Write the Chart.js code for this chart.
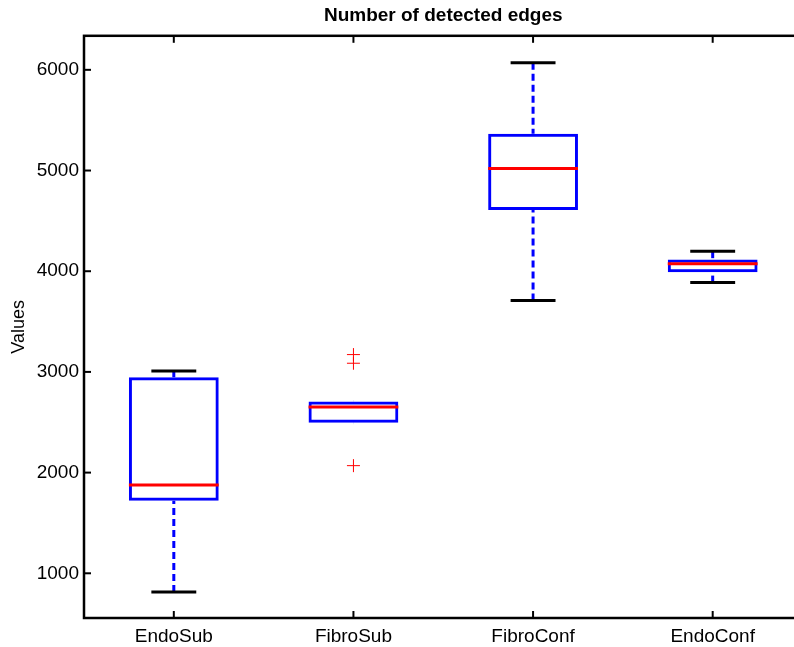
<!DOCTYPE html>
<html>
<head>
<meta charset="utf-8">
<script src="https://cdn.jsdelivr.net/npm/chart.js@4"></script>
<style>
  html, body { margin: 0; padding: 0; background: #fff; overflow: hidden; }
  #wrap { width: 810px; height: 647px; }
</style>
</head>
<body>
<div id="wrap"><canvas id="edges" width="810" height="647"></canvas></div>
<script>
// groups and box statistics (number of detected edges)
const categories = ["EndoSub", "FibroSub", "FibroConf", "EndoConf"];
const whiskerLow = [814, 2496, 3708, 3887];
const q1 = [1721, 2496, 4609, 3990];
const medians = [1877, 2652, 5019, 4073];
const q3 = [2947, 2705, 5364, 4117];
const whiskerHigh = [3010, 2705, 6070, 4199];

// points beyond the whiskers
const outlierGroups = ["FibroSub", "FibroSub", "FibroSub"];
const outlierValues = [3172, 3086, 2069];

const yTicks = [1000, 2000, 3000, 4000, 5000, 6000];

const FONT = "'Liberation Sans', Arial, Helvetica, sans-serif";
const LW = 3;

function seg(ctx, x1, y1, x2, y2) {
  ctx.beginPath();
  ctx.moveTo(x1, y1);
  ctx.lineTo(x2, y2);
  ctx.stroke();
}

// whiskers, caps, medians and the axes box with inward ticks
const boxExtras = {
  id: "boxExtras",
  beforeDatasetsDraw(chart) {
    const { ctx, scales: { x, y } } = chart;
    const step = x.getPixelForValue(1) - x.getPixelForValue(0);
    const capHalf = step * 0.125;
    ctx.save();
    ctx.lineWidth = LW;
    categories.forEach((c, i) => {
      const cx = x.getPixelForValue(i);
      ctx.strokeStyle = "#0000ff";
      ctx.setLineDash([7, 4]);
      seg(ctx, cx, y.getPixelForValue(whiskerHigh[i]), cx, y.getPixelForValue(q3[i]));
      seg(ctx, cx, y.getPixelForValue(whiskerLow[i]), cx, y.getPixelForValue(q1[i]));
      ctx.setLineDash([]);
      ctx.strokeStyle = "#000";
      // a cap that sits on the box edge is covered by the box
      if (whiskerHigh[i] > q3[i]) {
        const hy = y.getPixelForValue(whiskerHigh[i]);
        seg(ctx, cx - capHalf, hy, cx + capHalf, hy);
      }
      if (whiskerLow[i] < q1[i]) {
        const ly = y.getPixelForValue(whiskerLow[i]);
        seg(ctx, cx - capHalf, ly, cx + capHalf, ly);
      }
    });
    ctx.restore();
  },
  afterDatasetsDraw(chart) {
    const { ctx, chartArea: a, scales: { x, y } } = chart;
    const bars = chart.getDatasetMeta(0).data;
    ctx.save();
    ctx.lineWidth = LW;
    ctx.strokeStyle = "#ff0000";
    categories.forEach((c, i) => {
      const cx = x.getPixelForValue(i);
      const hw = bars[i].width / 2;
      const my = y.getPixelForValue(medians[i]);
      seg(ctx, cx - hw, my, cx + hw, my);
    });

    // frame
    ctx.strokeStyle = "#000";
    ctx.lineWidth = 2.5;
    ctx.strokeRect(a.left, a.top, a.right - a.left, a.bottom - a.top);

    // ticks pointing into the plot
    const tl = 7;
    ctx.lineWidth = 2;
    y.ticks.forEach(t => {
      const py = y.getPixelForValue(t.value);
      seg(ctx, a.left, py, a.left + tl, py);
      seg(ctx, a.right, py, a.right - tl, py);
    });
    categories.forEach((c, i) => {
      const px = x.getPixelForValue(i);
      seg(ctx, px, a.bottom, px, a.bottom - tl);
      seg(ctx, px, a.top, px, a.top + tl);
    });
    ctx.restore();
  }
};

new Chart(document.getElementById("edges"), {
  type: "bar",
  data: {
    labels: categories,
    datasets: [
      {
        label: "box",
        data: categories.map((c, i) => [q1[i], q3[i]]),
        backgroundColor: "rgba(0,0,0,0)",
        borderColor: "#0000ff",
        borderWidth: LW,
        borderSkipped: false,
        categoryPercentage: 1,
        barPercentage: 0.5
      },
      {
        type: "line",
        label: "outliers",
        data: outlierValues.map((v, i) => ({ x: outlierGroups[i], y: v })),
        showLine: false,
        pointStyle: "cross",
        pointRadius: 6.5,
        pointBorderWidth: 1,
        borderColor: "#ff0000",
        backgroundColor: "#ff0000"
      }
    ]
  },
  options: {
    responsive: false,
    animation: false,
    devicePixelRatio: 1,
    layout: { padding: { left: 0, right: 4, top: 0, bottom: 0 } },
    plugins: {
      legend: { display: false },
      tooltip: { enabled: false },
      title: {
        display: true,
        fullSize: false,
        text: "Number of detected edges",
        color: "#000",
        font: { family: FONT, size: 19, weight: "bold" },
        padding: { top: 4, bottom: 9 }
      }
    },
    scales: {
      x: {
        offset: true,
        grid: { display: false, drawTicks: false },
        border: { display: false },
        ticks: { color: "#000", font: { family: FONT, size: 19 }, padding: 7, maxRotation: 0 },
        afterFit: (scale) => { scale.height = 29; }
      },
      y: {
        min: 556,
        max: 6338,
        afterBuildTicks: (scale) => {
          scale.ticks = yTicks.map(v => ({ value: v }));
        },
        afterFit: (scale) => { scale.width = 84; },
        grid: { display: false, drawTicks: false },
        border: { display: false },
        ticks: { color: "#000", font: { family: FONT, size: 19 }, padding: 5, callback: (v) => String(v) },
        title: {
          display: true,
          text: "Values",
          color: "#000",
          font: { family: FONT, size: 18 },
          padding: { top: 8, bottom: 4 }
        }
      }
    }
  },
  plugins: [boxExtras]
});
</script>
</body>
</html>
